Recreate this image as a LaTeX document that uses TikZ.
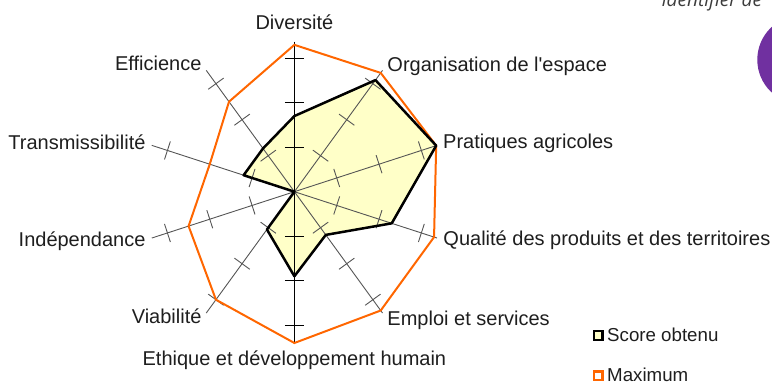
\documentclass[tikz,border=0pt]{standalone}
\usepackage{fontspec}
\setmainfont{Liberation Sans}
\newfontfamily\notefont{Open Sans}
\usepackage{tikz}
\definecolor{maxorange}{RGB}{255,102,0}
\definecolor{scorebg}{RGB}{255,255,200}
\definecolor{axisgray}{RGB}{85,85,85}
\definecolor{txtgray}{RGB}{30,30,30}
\definecolor{notegray}{RGB}{60,60,60}
\definecolor{badgepurple}{RGB}{112,48,160}
\def\radunit{4.45}
\tikzstyle{axis} = [draw, axisgray, line width=0.9pt]
\tikzstyle{vaxis} = [draw, black, line width=1.1pt]
\tikzstyle{tickmark} = [draw, axisgray, line width=0.9pt]
\tikzstyle{maxline} = [draw=maxorange, line width=2pt, line join=miter]
\tikzstyle{scoreline} = [draw=black, line width=2.5pt, line join=round]
\tikzstyle{lbl} = [inner sep=0pt, text=txtgray, font=\fontsize{20}{24}\selectfont]
\tikzstyle{legtxt} = [inner sep=0pt, text=txtgray, font=\fontsize{18.7}{22}\selectfont, anchor=base west]
\tikzstyle{legbox} = [rectangle, inner sep=0pt, minimum size=8.6pt, line width=2.4pt]

\begin{document}
\begin{tikzpicture}[x=1pt, y=1pt]
	\useasboundingbox (-294.4,-191.3) rectangle (477.6,191.7);
	\coordinate (ctr) at (0,0);
	% axis ends, maxima and obtained scores
	\foreach \n/\a/\m/\s in {div/90/33/17, org/54/33/31, pra/18/33.5/33.5, qua/-18/33/23, emp/-54/33/12,
		eth/-90/34/19, via/-126/30/10.5, ind/-162/25/0, tra/162/20/12, eff/126/25/12} {
		\coordinate (e\n) at (\a:{33.7*\radunit});
		\coordinate (m\n) at (\a:{\m*\radunit});
		\coordinate (s\n) at (\a:{\s*\radunit});
	}

	\path [fill=scorebg] (sdiv) -- (sorg) -- (spra) -- (squa) -- (semp) -- (seth) -- (svia) -- (sind) -- (stra) -- (seff) -- cycle;

	\foreach \n in {org, pra, qua, emp, via, ind, tra, eff}
		\path [axis] (ctr) -- (e\n);
	\path [vaxis] (ediv) -- (eeth);
	\foreach \a in {54, 18, -18, -54, -126, -162, 162, 126}
		\foreach \t in {10, 20, 30}
			\path [tickmark, rotate=\a] (\t*\radunit, -9.5) -- (\t*\radunit, 9.5);
	\foreach \t in {10, 20, 30} {
		\path [vaxis] (-9.5, \t*\radunit) -- (9.5, \t*\radunit);
		\path [vaxis] (-9.5, -\t*\radunit) -- (9.5, -\t*\radunit);
	}

	\path [maxline] (mdiv) -- (morg) -- (mpra) -- (mqua) -- (memp) -- (meth) -- (mvia) -- (mind) -- (mtra) -- (meff) -- cycle;
	\path [scoreline] (sdiv) -- (sorg) -- (spra) -- (squa) -- (semp) -- (seth) -- (svia) -- (sind) -- (stra) -- (seff) -- cycle;

	\node [lbl, anchor=base] (ldiv) at (0, 161.7) {Diversité};
	\node [lbl, anchor=base west] (lorg) at (92.9, 120) {Organisation de l\textquotesingle espace};
	\node [lbl, anchor=base west] (lpra) at (148.6, 43.2) {Pratiques agricoles};
	\node [lbl, anchor=base west] (lqua) at (148.9, -53.3) {Qualité des produits et des territoires};
	\node [lbl, anchor=base west] (lemp) at (92.9, -133.3) {Emploi et services};
	\node [lbl, anchor=base] (leth) at (0, -173.3) {Ethique et développement humain};
	\node [lbl, anchor=base east] (lvia) at (-92.7, -131.6) {Viabilité};
	\node [lbl, anchor=base east] (lind) at (-148.7, -55) {Indépendance};
	\node [lbl, anchor=base east] (ltra) at (-148.7, 42.4) {Transmissibilité};
	\node [lbl, anchor=base east] (leff) at (-92.7, 121) {Efficience};

	% legend
	\node [legbox, draw=black, fill=scorebg] (kscore) at (303.8, -143.7) {};
	\node [legtxt] (tscore) at (312.6, -150) {Score obtenu};
	\node [legbox, draw=maxorange, fill=white] (kmax) at (303.6, -184.2) {};
	\node [legtxt] (tmax) at (312.6, -189.3) {Maximum};

	\node [circle, fill=badgepurple, inner sep=0pt, minimum size=88.8pt] (badge) at (507.3, 132) {};
	\node [inner sep=0pt, anchor=base west, text=notegray, font=\notefont\itshape\fontsize{19}{22}\selectfont] (note) at (367.3, 185.2) {identifier de};
\end{tikzpicture}
\end{document}
